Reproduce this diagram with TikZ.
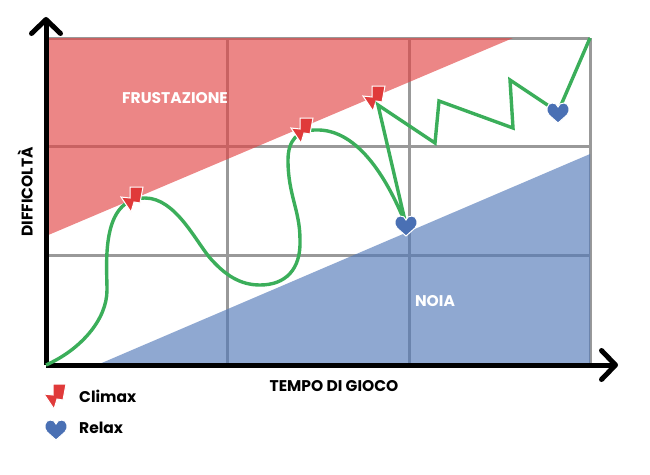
\documentclass[tikz,border=0pt]{standalone}
\usepackage{xcolor}
\usepackage{fontspec}
\setmainfont{Poppins}
\usetikzlibrary{arrows.meta}
\definecolor{griglia}{HTML}{999999}
\definecolor{rosso}{HTML}{E24545}
\definecolor{blu}{HTML}{5379B9}
\definecolor{verde}{HTML}{3BAE5A}
\definecolor{fulmine}{HTML}{E03A3A}
\definecolor{cuore}{HTML}{4A70B4}
\tikzset{
  griglialine/.style={draw=griglia, line width=3pt},
  asse/.style={line width=5pt, -{Straight Barb[length=14pt, width=29pt, round]}},
  curva/.style={draw=verde, line width=3.4pt, line join=miter},
  etichetta/.style={font=\fontsize{15.5pt}{18pt}\selectfont\bfseries},
  pics/climax/.style={code={
    \filldraw[fill=fulmine, draw=#1, line width=1pt, line join=miter]
      (-3,-13) -- (10,-13) -- (7,3) -- (1,2) -- (-2,12) -- (-12,-3) -- (-3,-2) -- cycle;
  }},
  pics/relax/.style={code={
    \filldraw[fill=cuore, draw=#1, line width=1pt]
      (0,11) -- (-9,3) .. controls (-13,-1) and (-11,-9) .. (-6,-9)
      .. controls (-3,-9) and (-1,-8) .. (0,-5)
      .. controls (1,-8) and (3,-9) .. (6,-9)
      .. controls (11,-9) and (13,-1) .. (9,3) -- cycle;
  }},
}
\begin{document}
\begin{tikzpicture}[x=1pt, y=-1pt, every node/.style={font=\bfseries}]
  \useasboundingbox (0,0) rectangle (650,474);
  % griglia
  \foreach \gx in {227,409,590}
    \draw[griglialine] (\gx,38) -- (\gx,365);
  \foreach \gy in {38,146,255}
    \draw[griglialine] (46,\gy) -- (590,\gy);
  % zone
  \fill[rosso, fill opacity=0.65] (46,38) -- (513,38) -- (46,236) -- cycle;
  \fill[blu, fill opacity=0.65] (97,365) -- (590,154) -- (590,365) -- cycle;
  \node[etichetta, white] (frustazione) at (175,98) {FRUSTAZIONE};
  \node[etichetta, white] (noia) at (435,301) {NOIA};
  % assi
  \coordinate (origine) at (46,365);
  \coordinate (cimay) at (46,17);
  \coordinate (cimax) at (618,365);
  \draw[asse] (origine) -- (cimay);
  \draw[asse] (origine) -- (cimax);
  \node[etichetta, rotate=90] (difficolta) at (25,192) {DIFFICOLTÀ};
  \node[etichetta] (tempo) at (334,386) {TEMPO DI GIOCO};
  % punti
  \coordinate (climaxa) at (133,200);
  \coordinate (climaxb) at (303,131);
  \coordinate (climaxc) at (375,99);
  \coordinate (relaxa) at (406,225);
  \coordinate (relaxb) at (558,112);
  \coordinate (fine) at (590,38);
  \pic at (climaxc) {climax=white};
  % curva
  \draw[curva] (origine) .. controls (80,350) and (107,320) .. (107,290)
    .. controls (107,265) and (100,198) .. (145,198)
    .. controls (175,198) and (195,240) .. (210,258)
    .. controls (225,275) and (240,285) .. (260,285)
    .. controls (285,285) and (301,270) .. (300,240)
    .. controls (300,210) and (288,195) .. (288,160)
    .. controls (288,140) and (298,130) .. (315,130)
    .. controls (360,128) and (390,185) .. (relaxa)
    -- (378,105) -- (435,143) -- (439,101) -- (513,128) -- (510,80)
    -- (relaxb) -- (fine);
  \pic at (climaxa) {climax=white};
  \pic at (climaxb) {climax=white};
  \pic at (relaxa) {relax=white};
  \pic at (relaxb) {relax=white};
  % legenda
  \coordinate (legclimax) at (56,397);
  \coordinate (legrelax) at (56,429);
  \pic at (legclimax) {climax=white};
  \pic at (legrelax) {relax=white};
  \node[etichetta, anchor=west, inner sep=0pt] (climax) at (79,396) {Climax};
  \node[etichetta, anchor=west, inner sep=0pt] (relax) at (79,428) {Relax};
\end{tikzpicture}
\end{document}
